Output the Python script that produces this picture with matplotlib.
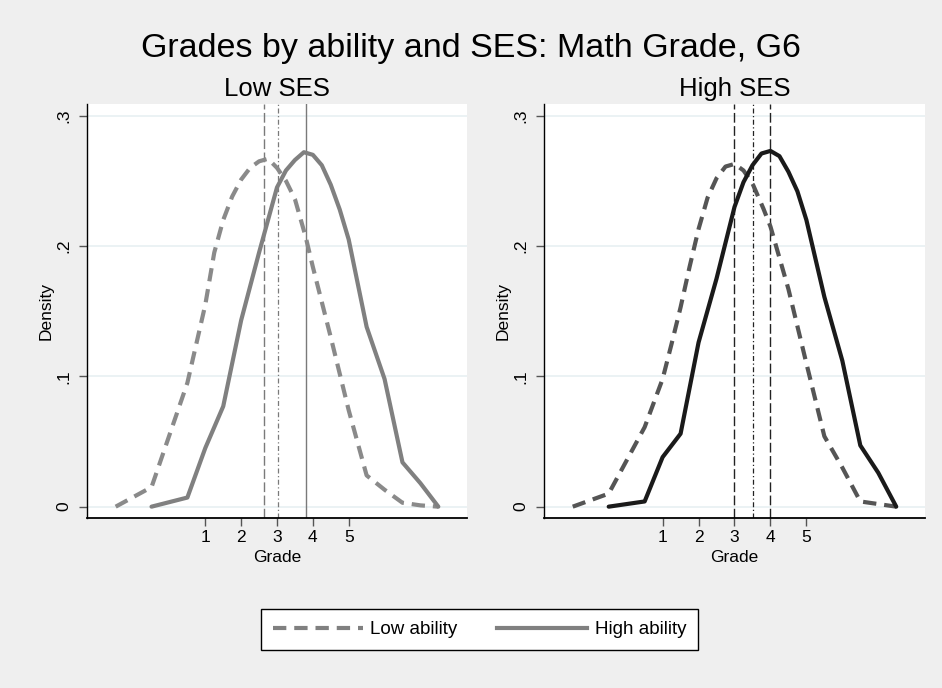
import matplotlib.pyplot as plt
from matplotlib.lines import Line2D

plt.rcParams['font.family'] = ['Liberation Sans', 'DejaVu Sans']

# kernel density curves of the grade, by ability group and SES
grade_low = [-1.5, -0.5, 0.5, 1.0, 1.25, 1.5, 1.75, 2.0, 2.25, 2.5, 2.75, 3.0, 3.25, 3.5, 3.8, 4.0, 4.5, 5.0, 5.5, 6.0, 6.5, 7.0, 7.5]
grade_high = [-0.5, 0.5, 1.0, 1.5, 2.0, 2.5, 3.0, 3.25, 3.5, 3.75, 4.0, 4.25, 4.5, 4.75, 5.0, 5.5, 6.0, 6.5, 7.0, 7.5]

lowses_low = [0, 0.015, 0.095, 0.155, 0.195, 0.220, 0.238, 0.251, 0.260, 0.265, 0.267, 0.260, 0.250, 0.236, 0.207, 0.184, 0.130, 0.074, 0.024, 0.013, 0.003, 0.001, 0]
lowses_high = [0, 0.007, 0.045, 0.077, 0.143, 0.195, 0.245, 0.258, 0.266, 0.272, 0.270, 0.262, 0.247, 0.228, 0.205, 0.138, 0.098, 0.034, 0.018, 0]

highses_low = [0, 0.010, 0.061, 0.098, 0.125, 0.153, 0.184, 0.213, 0.237, 0.252, 0.261, 0.263, 0.258, 0.248, 0.229, 0.215, 0.167, 0.110, 0.054, 0.030, 0.004, 0.002, 0]
highses_high = [0, 0.004, 0.038, 0.056, 0.126, 0.175, 0.230, 0.249, 0.262, 0.271, 0.273, 0.269, 0.257, 0.242, 0.220, 0.161, 0.112, 0.047, 0.026, 0]

# mean grade: low ability, everyone, high ability
lowses_means = [2.65, 3.02, 3.80]
highses_means = [2.98, 3.52, 3.99]

panels = ['Low SES', 'High SES']
yticks = [0, 0.1, 0.2, 0.3]
ytick_labels = ['0', '.1', '.2', '.3']
xticks = [1, 2, 3, 4, 5]

bg = '#efefef'
fig = plt.figure(figsize=(9.42, 6.88), dpi=100, facecolor=bg)

W, H = 942.0, 688.0
ax1 = fig.add_axes([87 / W, 1 - 518 / H, 380 / W, 414 / H])
ax2 = fig.add_axes([544 / W, 1 - 518 / H, 381 / W, 414 / H])

dash = (0, (3.2, 1.9))

def draw_panel(ax, title, low, high, means, col_low, col_high, col_vline, last_style):
    ax.set_facecolor('white')
    for y in yticks:
        ax.axhline(y, color='#e8f0f2', lw=1.2, zorder=0)
    l1, = ax.plot(grade_low, low, color=col_low, lw=3.0, linestyle=dash, dash_capstyle='butt', zorder=3)
    l2, = ax.plot(grade_high, high, color=col_high, lw=3.0, solid_capstyle='round', zorder=3)
    ax.axvline(means[0], color=col_vline, lw=1.0, linestyle=(0, (7, 2.5)), zorder=2)
    ax.axvline(means[1], color=col_vline, lw=0.9, linestyle=(0, (4, 2, 1, 2)), zorder=2)
    ax.axvline(means[2], color=col_vline, lw=1.0, linestyle=last_style, zorder=2)

    ax.set_xlim(-2.3, 8.3)
    ax.set_ylim(-0.0087, 0.309)
    ax.set_xticks(xticks)
    ax.set_yticks(yticks)
    ax.set_yticklabels(ytick_labels, rotation=90, va='center')
    ax.tick_params(axis='both', direction='out', length=6, width=1, color='#555555', labelsize=12.5, pad=3)
    ax.tick_params(axis='y', pad=5)
    for s in ['top', 'right']:
        ax.spines[s].set_visible(False)
    ax.spines['left'].set_linewidth(1.0)
    ax.spines['bottom'].set_linewidth(1.3)
    ax.set_xlabel('Grade', fontsize=12.5, labelpad=3)
    ax.set_ylabel('Density', fontsize=12.5, labelpad=2)
    ax.set_title(title, fontsize=18.5, pad=6)
    return l1, l2

h1, h2 = draw_panel(ax1, panels[0], lowses_low, lowses_high, lowses_means,
                    '#8a8a8a', '#808080', '#7a7a7a', '-')
draw_panel(ax2, panels[1], highses_low, highses_high, highses_means,
           '#555555', '#1a1a1a', '#222222', (0, (7, 2.5)))

fig.suptitle('Grades by ability and SES: Math Grade, G6', fontsize=24.5, y=1 - 49 / H, va='center')

handles = [Line2D([], [], color='#808080', lw=3.0, linestyle=dash, dash_capstyle='butt'),
           Line2D([], [], color='#808080', lw=3.0)]
leg = fig.legend(handles, ['Low ability', 'High ability'], loc='center',
                 bbox_to_anchor=(479.5 / W, 1 - 629.5 / H), ncol=2, fontsize=13.5,
                 handlelength=4.8, handletextpad=0.4, columnspacing=2.1,
                 borderpad=0.65, fancybox=False, framealpha=1)
leg.get_frame().set_edgecolor('black')
leg.get_frame().set_linewidth(1.0)

fig.savefig('out.png', dpi=100, facecolor=bg)
